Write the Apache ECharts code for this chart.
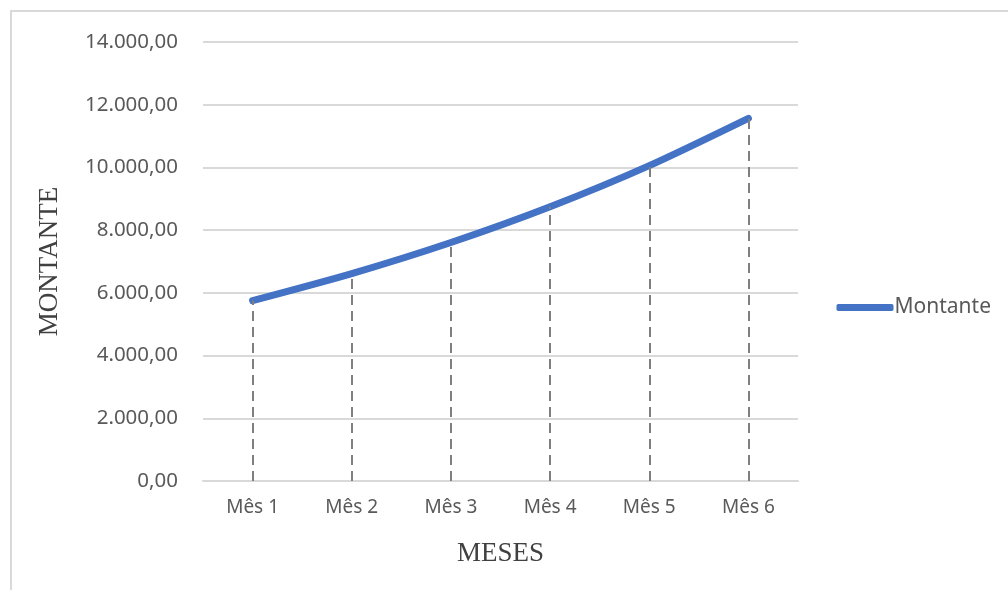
<!DOCTYPE html>
<html>
<head>
<meta charset="utf-8">
<script src="https://cdn.jsdelivr.net/npm/echarts@6/dist/echarts.min.js"></script>
<style>
html,body{margin:0;padding:0;background:#fff;}
#chart{width:1008px;height:590px;}
</style>
</head>
<body>
<div id="chart"></div>
<script>
const categories = ['Mês 1', 'Mês 2', 'Mês 3', 'Mês 4', 'Mês 5', 'Mês 6'];
const montante = [5750, 6612.5, 7604.38, 8745.03, 10056.79, 11565.31];
const seriesName = 'Montante';
const yTitle = 'MONTANTE';
const xTitle = 'MESES';

function fmt(v) {
  const parts = Number(v).toFixed(2).split('.');
  const intPart = parts[0].replace(/\B(?=(\d{3})+(?!\d))/g, '.');
  return intPart + ',' + parts[1];
}

const chart = echarts.init(document.getElementById('chart'));
chart.setOption({
  animation: false,
  backgroundColor: '#fff',
  graphic: [{
    type: 'rect',
    shape: { x: 11, y: 11, width: 1200, height: 800 },
    style: { fill: 'none', stroke: '#d9d9d9', lineWidth: 2 },
    silent: true
  }],
  grid: { left: 203, right: 210, top: 42, bottom: 109 },
  legend: {
    data: [seriesName],
    right: 12,
    top: 292,
    icon: 'roundRect',
    itemWidth: 57,
    itemHeight: 7,
    textStyle: { fontFamily: 'Noto Sans', fontSize: 21, color: '#595959', padding: [0, 0, 0, -4] }
  },
  xAxis: {
    type: 'category',
    data: categories,
    boundaryGap: true,
    name: xTitle,
    nameLocation: 'middle',
    nameGap: 59,
    nameTextStyle: { fontFamily: 'Liberation Serif', fontSize: 27, color: '#404040' },
    axisLine: { lineStyle: { color: '#d9d9d9', width: 2 } },
    axisTick: { show: false },
    axisLabel: { fontFamily: 'Noto Sans', fontSize: 19, color: '#595959', margin: 17 }
  },
  yAxis: {
    type: 'value',
    min: 0,
    max: 14000,
    interval: 2000,
    name: yTitle,
    nameLocation: 'middle',
    nameGap: 140,
    nameRotate: 90,
    nameTextStyle: { fontFamily: 'Liberation Serif', fontSize: 27, color: '#404040' },
    axisLine: { show: false },
    axisTick: { show: false },
    splitLine: { lineStyle: { color: '#d9d9d9', width: 2 } },
    axisLabel: { fontFamily: 'Noto Sans', fontSize: 20.5, color: '#595959', margin: 25, formatter: fmt }
  },
  series: [{
    name: seriesName,
    type: 'line',
    data: montante,
    smooth: 0.25,
    symbol: 'none',
    lineStyle: { color: '#4472C4', width: 7, cap: 'round' },
    itemStyle: { color: '#4472C4' },
    z: 3,
    markLine: {
      silent: true,
      symbol: 'none',
      label: { show: false },
      lineStyle: { color: '#7f7f7f', width: 2, type: [10, 6] },
      data: montante.map((v, i) => [{ coord: [i, 0] }, { coord: [i, v] }])
    }
  }]
});
</script>
</body>
</html>
